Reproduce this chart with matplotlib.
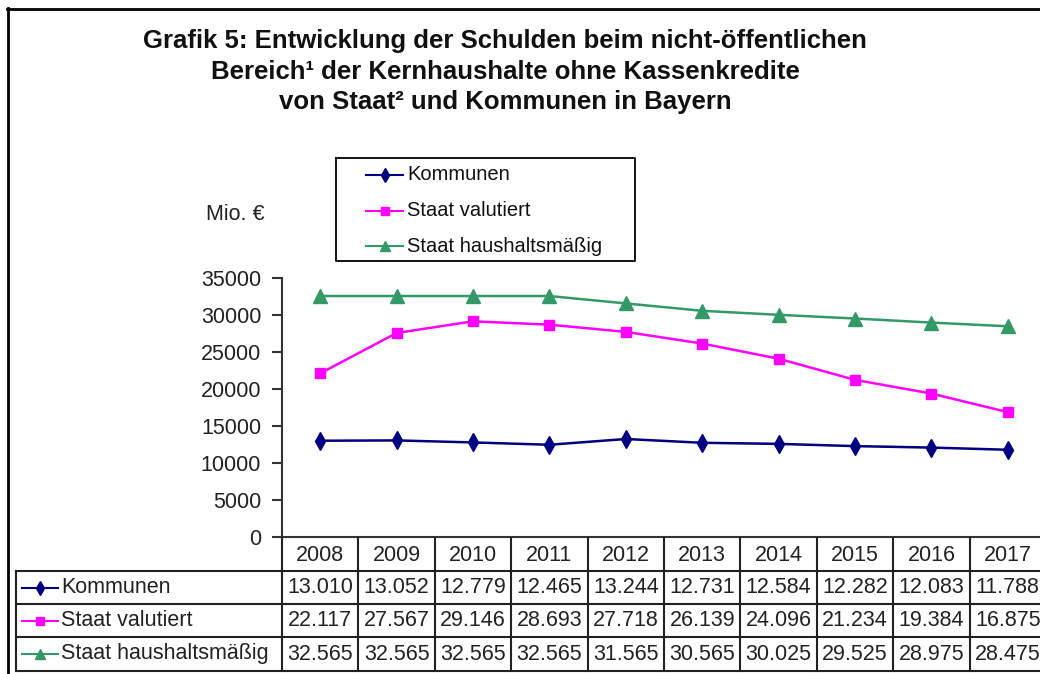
import matplotlib
matplotlib.use("Agg")
import matplotlib.pyplot as plt
import matplotlib.transforms as mtransforms
from matplotlib.lines import Line2D

# ---------------- data ----------------
years = ["2008", "2009", "2010", "2011", "2012", "2013", "2014", "2015", "2016", "2017"]
kommunen = [13010, 13052, 12779, 12465, 13244, 12731, 12584, 12282, 12083, 11788]
staat_valutiert = [22117, 27567, 29146, 28693, 27718, 26139, 24096, 21234, 19384, 16875]
staat_haushalt = [32565, 32565, 32565, 32565, 31565, 30565, 30025, 29525, 28975, 28475]
series_names = ["Kommunen", "Staat valutiert", "Staat haushaltsmäßig"]
y_ticks = [0, 5000, 10000, 15000, 20000, 25000, 30000, 35000]
title_lines = ["Grafik 5: Entwicklung der Schulden beim nicht-öffentlichen",
               "Bereich¹ der Kernhaushalte ohne Kassenkredite",
               "von Staat² und Kommunen in Bayern"]
y_label = "Mio. €"

plt.rcParams['font.family'] = ['Liberation Sans', 'DejaVu Sans']

W, H = 1040, 674
fig = plt.figure(figsize=(W / 100, H / 100), dpi=100)
fig.patch.set_facecolor('white')
# pixel transform (origin top-left)
px = mtransforms.Affine2D().scale(1 / W, -1 / H).translate(0, 1) + fig.transFigure

AX_L, AX_R, AX_T, AX_B = 282, 1046, 278, 537
ax = fig.add_axes([AX_L / W, 1 - AX_B / H, (AX_R - AX_L) / W, (AX_B - AX_T) / H])

styles = [
    dict(color='#000080', marker='d', ms=9),
    dict(color='#FF00FF', marker='s', ms=7.5),
    dict(color='#339966', marker='^', ms=9.5),
]
series = [kommunen, staat_valutiert, staat_haushalt]
xpos = list(range(len(years)))
for vals, name, st in zip(series, series_names, styles):
    ax.plot(xpos, vals, color=st['color'], marker=st['marker'], markersize=st['ms'],
            markeredgecolor=st['color'], markerfacecolor=st['color'], lw=1.8, label=name,
            clip_on=False, zorder=3)

ax.set_xlim(-0.5, len(years) - 0.5)
ax.set_ylim(0, 35000)
ax.set_yticks(y_ticks)
ax.set_yticklabels([str(t) for t in y_ticks])
ax.set_xticks([])
ax.tick_params(axis='y', direction='out', length=7, width=1.5, pad=8, labelsize=15.5,
               labelcolor='#222222', color='#333333')
for s in ['top', 'right']:
    ax.spines[s].set_visible(False)
for s in ['left', 'bottom']:
    ax.spines[s].set_linewidth(1.5)
    ax.spines[s].set_color('#333333')
ax.set_facecolor('none')

# ---------------- title ----------------
for i, (line, yy) in enumerate(zip(title_lines, [41, 72, 102])):
    fig.text(505, yy, line, transform=px, ha='center', va='center', fontsize=18.5,
             fontweight='bold', color='#111111')

fig.text(235, 215, y_label, transform=px, ha='center', va='center', fontsize=15.5, color='#222222')

# ---------------- frame ----------------
fig.add_artist(Line2D([8, 8], [8, 680], transform=px, color='black', lw=2))
fig.add_artist(Line2D([7, 1045], [9, 9], transform=px, color='black', lw=2))

# ---------------- legend (manual box) ----------------
LG_L, LG_R, LG_T, LG_B = 336, 635, 158, 261
fig.add_artist(Line2D([LG_L, LG_R, LG_R, LG_L, LG_L], [LG_T, LG_T, LG_B, LG_B, LG_T],
                      transform=px, color='black', lw=1.3))
for name, st, yy in zip(series_names, styles, [175, 211, 246]):
    fig.add_artist(Line2D([366, 403], [yy, yy], transform=px, color=st['color'], lw=1.5))
    fig.add_artist(Line2D([384.5], [yy], transform=px, color=st['color'], marker=st['marker'],
                          markersize=st['ms'] * 0.8, ls='none'))
    fig.text(407, yy, name, transform=px, ha='left', va='center', fontsize=14.5, color='#111111')

# ---------------- data table ----------------
blend = mtransforms.blended_transform_factory(ax.transData, px)
ROWS = [538, 571, 604, 637, 671]
TBL_L = 16
lc = '#222222'
# horizontal lines
for yy in ROWS[1:]:
    fig.add_artist(Line2D([TBL_L, 1060], [yy, yy], transform=px, color=lc, lw=1.5))
# left border of label column
fig.add_artist(Line2D([TBL_L, TBL_L], [ROWS[1], ROWS[-1]], transform=px, color=lc, lw=1.5))
# vertical lines between year columns
for k in range(len(years) + 1):
    fig.add_artist(Line2D([k - 0.5, k - 0.5], [ROWS[0], ROWS[-1]], transform=blend, color=lc, lw=1.5))

# header (years)
hy = (ROWS[0] + ROWS[1]) / 2 + 1
for i, yr in enumerate(years):
    fig.text(i, hy, yr, transform=blend, ha='center', va='center', fontsize=15.5, color='#222222')

# rows
for r, (vals, name, st) in enumerate(zip(series, series_names, styles)):
    cy = (ROWS[r + 1] + ROWS[r + 2]) / 2
    fig.add_artist(Line2D([22, 58], [cy, cy], transform=px, color=st['color'], lw=1.5))
    fig.add_artist(Line2D([40], [cy], transform=px, color=st['color'], marker=st['marker'],
                          markersize=st['ms'] * 0.8, ls='none'))
    fig.text(61, cy, name, transform=px, ha='left', va='center', fontsize=15.5, color='#222222')
    for i, v in enumerate(vals):
        label = f"{v:,}".replace(",", ".")
        fig.text(i, cy, label, transform=blend, ha='center', va='center', fontsize=15.5,
                 color='#222222')

fig.savefig("out.png", dpi=100, facecolor='white')
